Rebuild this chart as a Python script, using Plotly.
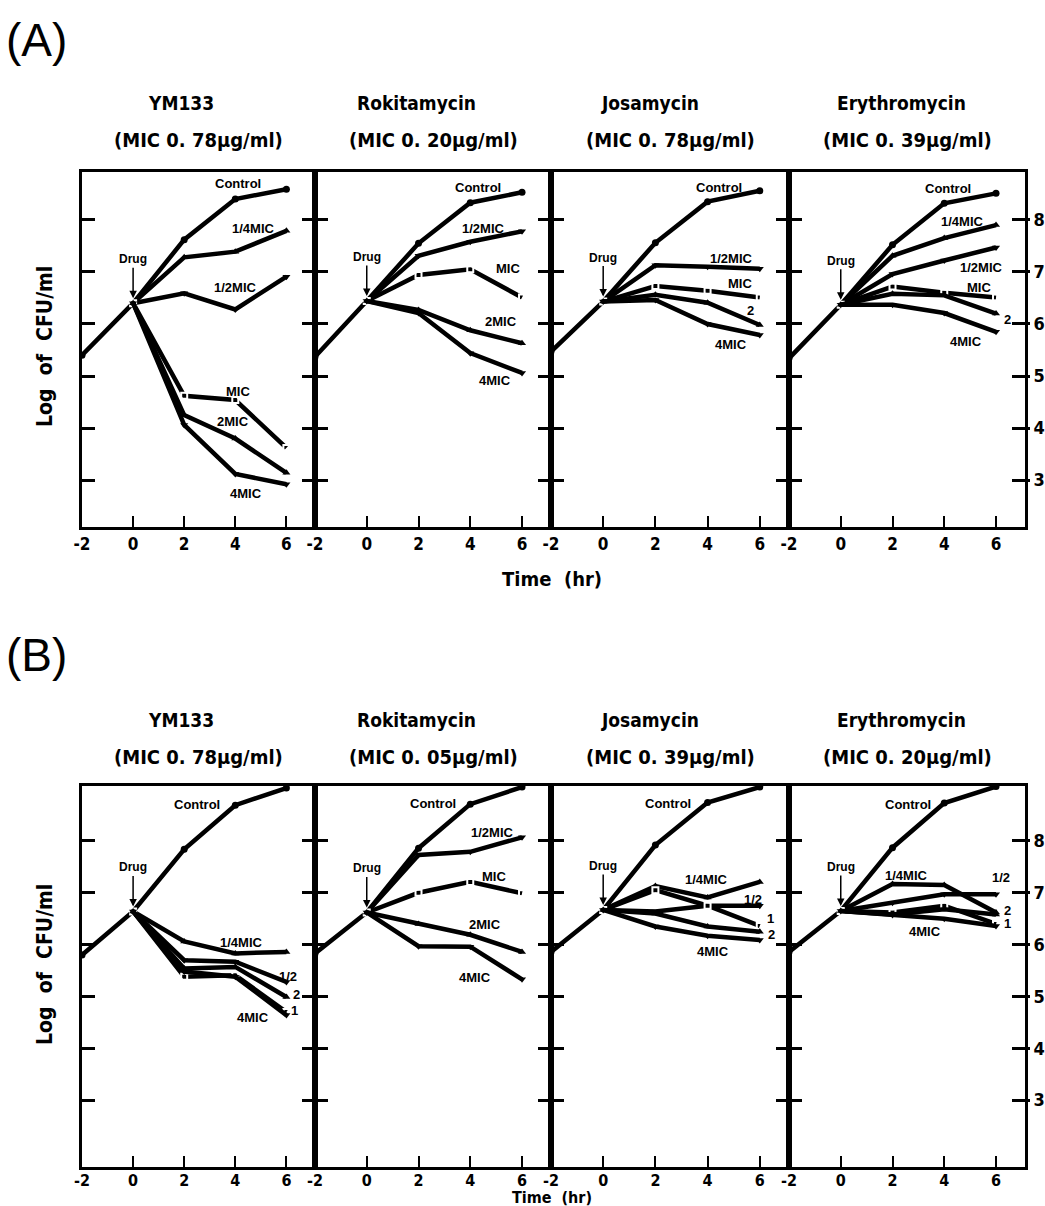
import plotly.graph_objects as go

W, H = 1045, 1206

# ---------------- data ----------------
times_ctrl = [-2, 0, 2, 4, 6]
times_drug = [0, 2, 4, 6]
x_ticks = [-2, 0, 2, 4, 6]
y_ticks = [3, 4, 5, 6, 7, 8]
drug_names = ["YM133", "Rokitamycin", "Josamycin", "Erythromycin"]
mic_A = ["(MIC 0. 78μg/ml)", "(MIC 0. 20μg/ml)", "(MIC 0. 78μg/ml)", "(MIC 0. 39μg/ml)"]
mic_B = ["(MIC 0. 78μg/ml)", "(MIC 0. 05μg/ml)", "(MIC 0. 39μg/ml)", "(MIC 0. 20μg/ml)"]

# Panel A  (Log CFU/ml)
A_YM133 = {
    "Control": [5.40, 6.40, 7.62, 8.40, 8.59],
    "1/4MIC": [6.40, 7.28, 7.39, 7.79],
    "1/2MIC": [6.40, 6.59, 6.28, 6.91],
    "MIC": [6.40, 4.62, 4.54, 3.62],
    "2MIC": [6.40, 4.25, 3.80, 3.14],
    "4MIC": [6.40, 4.06, 3.12, 2.92],
}
A_Rokitamycin = {
    "Control": [5.37, 6.44, 7.55, 8.33, 8.53],
    "1/2MIC": [6.44, 7.31, 7.58, 7.78],
    "MIC": [6.44, 6.94, 7.05, 6.51],
    "2MIC": [6.44, 6.27, 5.88, 5.63],
    "4MIC": [6.44, 6.21, 5.44, 5.06],
}
A_Josamycin = {
    "Control": [5.47, 6.43, 7.56, 8.35, 8.56],
    "1/2MIC": [6.43, 7.13, 7.10, 7.06],
    "MIC": [6.43, 6.73, 6.64, 6.51],
    "2MIC": [6.43, 6.56, 6.41, 5.98],
    "4MIC": [6.43, 6.46, 6.00, 5.79],
}
A_Erythromycin = {
    "Control": [5.34, 6.37, 7.52, 8.32, 8.51],
    "1/4MIC": [6.37, 7.31, 7.65, 7.90],
    "1/2MIC": [6.37, 6.96, 7.22, 7.47],
    "MIC": [6.37, 6.72, 6.60, 6.51],
    "2MIC": [6.37, 6.58, 6.55, 6.20],
    "4MIC": [6.37, 6.37, 6.21, 5.85],
}
# Panel B
B_YM133 = {
    "Control": [5.80, 6.64, 7.84, 8.69, 9.02],
    "1/4MIC": [6.64, 6.06, 5.83, 5.86],
    "1/2MIC": [6.64, 5.70, 5.67, 5.28],
    "MIC": [6.64, 5.38, 5.41, 4.70],
    "2MIC": [6.64, 5.54, 5.57, 4.99],
    "4MIC": [6.64, 5.48, 5.38, 4.64],
}
B_Rokitamycin = {
    "Control": [5.83, 6.62, 7.86, 8.71, 9.04],
    "1/2MIC": [6.62, 7.73, 7.79, 8.07],
    "MIC": [6.62, 7.00, 7.21, 6.99],
    "2MIC": [6.62, 6.40, 6.19, 5.86],
    "4MIC": [6.62, 5.97, 5.96, 5.33],
}
B_Josamycin = {
    "Control": [5.86, 6.67, 7.92, 8.74, 9.04],
    "1/4MIC": [6.67, 7.13, 6.91, 7.21],
    "1/2MIC": [6.67, 6.64, 6.75, 6.75],
    "MIC": [6.67, 7.05, 6.75, 6.36],
    "2MIC": [6.67, 6.60, 6.35, 6.25],
    "4MIC": [6.67, 6.35, 6.17, 6.09],
}
B_Erythromycin = {
    "Control": [5.86, 6.65, 7.87, 8.73, 9.05],
    "1/4MIC": [6.65, 7.17, 7.15, 6.62],
    "1/2MIC": [6.65, 6.81, 6.97, 6.97],
    "MIC": [6.65, 6.62, 6.75, 6.40],
    "2MIC": [6.65, 6.58, 6.68, 6.58],
    "4MIC": [6.65, 6.57, 6.50, 6.36],
}

# curve labels (text, x, y) in data units
A_labels = [
    [("Control", 4.1, 8.70), ("1/4MIC", 4.7, 7.83), ("1/2MIC", 4.0, 6.71),
     ("MIC", 4.1, 4.71), ("2MIC", 3.9, 4.12), ("4MIC", 4.4, 2.75)],
    [("Control", 4.3, 8.62), ("1/2MIC", 4.5, 7.83), ("MIC", 5.45, 7.06),
     ("2MIC", 5.2, 6.04), ("4MIC", 4.95, 4.92)],
    [("Control", 4.45, 8.63), ("1/2MIC", 4.9, 7.25), ("MIC", 5.25, 6.77),
     ("2", 5.65, 6.25), ("4MIC", 4.9, 5.60)],
    [("Control", 4.15, 8.60), ("1/4MIC", 4.7, 7.96), ("1/2MIC", 5.45, 7.08),
     ("MIC", 5.35, 6.71), ("2", 6.45, 6.08), ("4MIC", 4.85, 5.67)],
]
B_labels = [
    [("Control", 2.5, 8.71), ("1/4MIC", 4.25, 6.05), ("1/2", 6.05, 5.39),
     ("2", 6.38, 5.03), ("1", 6.33, 4.73), ("4MIC", 4.7, 4.60)],
    [("Control", 2.55, 8.73), ("1/2MIC", 4.85, 8.17), ("MIC", 4.9, 7.32),
     ("2MIC", 4.55, 6.38), ("4MIC", 4.2, 5.36)],
    [("Control", 2.5, 8.73), ("1/4MIC", 3.95, 7.25), ("1/2", 5.75, 6.88),
     ("1", 6.4, 6.51), ("2", 6.45, 6.19), ("4MIC", 4.2, 5.86)],
    [("Control", 2.6, 8.71), ("1/4MIC", 2.55, 7.34), ("1/2", 6.2, 7.30),
     ("2", 6.45, 6.66), ("1", 6.45, 6.40), ("4MIC", 3.25, 6.25)],
]

panels = [
    dict(series=[A_YM133, A_Rokitamycin, A_Josamycin, A_Erythromycin],
         labels=A_labels, mics=mic_A, yrange=[2.10, 8.92],
         top=172, bottom=527, name_y=103, mic_y=140, letter="(A)", letter_y=40,
         time_y=579, ylab_y=347, tick_size=17, standoff=0, time_size=20),
    dict(series=[B_YM133, B_Rokitamycin, B_Josamycin, B_Erythromycin],
         labels=B_labels, mics=mic_B, yrange=[1.71, 9.06],
         top=786, bottom=1167, name_y=720, mic_y=757, letter="(B)", letter_y=655,
         time_y=1197, ylab_y=965, tick_size=16, standoff=-3, time_size=16),
]

# ---------------- styling ----------------
marker_of = {
    "Control": dict(symbol="circle", size=7),
    "1/4MIC": dict(symbol="triangle-up", size=7),
    "1/2MIC": dict(symbol="triangle-down", size=7),
    "MIC": dict(symbol="square-open", size=6, line=dict(width=2, color="black")),
    "2MIC": dict(symbol="triangle-up", size=7),
    "4MIC": dict(symbol="triangle-down", size=7),
}
col_px = [82, 315, 551, 789, 1025]
name_px = [181, 416, 650, 901]
XR = [-2, 7.12]
NARROW = "DejaVu Sans Condensed, Liberation Sans Narrow, Arial Narrow, sans-serif"
SANS = "Liberation Sans, Arial, Helvetica, sans-serif"

fig = go.Figure()
annotations = []
layout = dict(template="none", width=W, height=H,
              margin=dict(l=0, r=0, t=0, b=0, pad=0, autoexpand=False),
              paper_bgcolor="white", plot_bgcolor="white", showlegend=False)


def ptext(x_px, y_px, text, size, family=NARROW, bold=True, angle=0,
          xanchor="center", yanchor="middle"):
    return dict(x=x_px / W, y=1 - y_px / H, xref="paper", yref="paper",
                xanchor=xanchor, yanchor=yanchor, text=text, showarrow=False,
                textangle=angle,
                font=dict(family=family, size=size, color="black",
                          weight="bold" if bold else "normal"))


k = 0
for pi, p in enumerate(panels):
    ydom = [1 - p["bottom"] / H, 1 - p["top"] / H]
    for c in range(4):
        k += 1
        xa = "x" if k == 1 else f"x{k}"
        ya = "y" if k == 1 else f"y{k}"
        xdom = [col_px[c] / W, col_px[c + 1] / W]
        s = p["series"][c]
        for name, vals in s.items():
            xs = times_ctrl if name == "Control" else times_drug
            fig.add_trace(go.Scatter(
                x=xs, y=vals, xaxis=xa, yaxis=ya, mode="lines+markers",
                line=dict(color="black", width=4.5),
                marker=dict(color="black" if name != "MIC" else "white", **marker_of[name]),
                hoverinfo="skip"))
        layout["xaxis" if k == 1 else f"xaxis{k}"] = dict(
            domain=xdom, anchor=ya, range=XR, tickvals=x_ticks,
            ticktext=[str(v) for v in x_ticks], automargin=False,
            ticks="inside", ticklen=11, tickwidth=2, tickcolor="black",
            ticklabelstandoff=p["standoff"],
            showline=True, linewidth=3, linecolor="black", mirror=True,
            showgrid=False, zeroline=False,
            tickfont=dict(family=NARROW, size=p["tick_size"], color="black", weight="bold"))
        layout["yaxis" if k == 1 else f"yaxis{k}"] = dict(
            domain=ydom, anchor=xa, range=p["yrange"], tickvals=y_ticks,
            automargin=False,
            ticks="inside", ticklen=13, tickwidth=3, tickcolor="black",
            showline=True, linewidth=3, linecolor="black", mirror="ticks",
            showgrid=False, zeroline=False, showticklabels=False)
        # Drug arrow
        drug_y = s["Control"][1]
        annotations.append(dict(
            x=0, y=drug_y, xref=xa, yref=ya, text="Drug", showarrow=True,
            arrowhead=2, arrowsize=1, arrowwidth=1.5, arrowcolor="black",
            ax=0, ay=-44, standoff=5,
            font=dict(family=SANS, size=12, color="black", weight="bold")))
        for (txt, lx, ly) in p["labels"][c]:
            annotations.append(dict(
                x=lx, y=ly, xref=xa, yref=ya, text=txt, showarrow=False,
                xanchor="center", yanchor="middle",
                font=dict(family=SANS, size=13, color="black", weight="bold")))
        xc = (col_px[c] + col_px[c + 1]) / 2
        annotations.append(ptext(name_px[c], p["name_y"], drug_names[c], 19))
        annotations.append(ptext(xc, p["mic_y"], p["mics"][c], 20))
    # right-hand value axis for the panel (labels outside the frame)
    rk = 9 + pi
    ref_y = "y4" if pi == 0 else "y8"
    layout[f"yaxis{rk}"] = dict(
        overlaying=ref_y, anchor="free", position=col_px[-1] / W, side="right",
        range=p["yrange"], tickvals=y_ticks, automargin=False,
        ticks="outside", ticklen=4, tickwidth=3, tickcolor="black",
        showline=False, showgrid=False, zeroline=False,
        tickfont=dict(family=NARROW, size=18, color="black", weight="bold"))
    fig.add_trace(go.Scatter(x=[None], y=[None], xaxis="x4" if pi == 0 else "x8",
                             yaxis=f"y{rk}", mode="lines", hoverinfo="skip"))
    annotations.append(ptext(4, p["letter_y"], p["letter"], 46, family=SANS,
                             bold=False, xanchor="left"))
    annotations.append(ptext(552, p["time_y"], "Time  (hr)", p["time_size"]))
    annotations.append(ptext(45, p["ylab_y"], "Log  of  CFU/ml", 21, angle=-90))

layout["annotations"] = annotations
fig.update_layout(**layout)
fig.write_html("out.html", config={"displayModeBar": False, "staticPlot": True},
               post_script="document.body.style.margin='0';document.body.style.padding='0';")
